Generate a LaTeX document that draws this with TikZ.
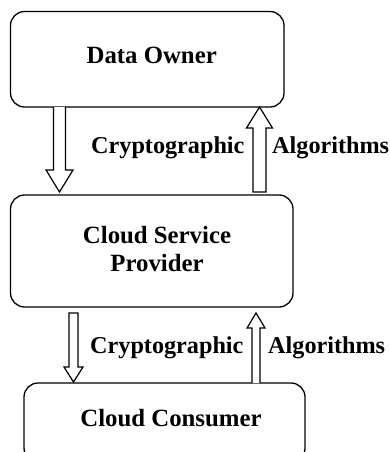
\documentclass[tikz,border=0pt]{standalone}
\usepackage{fontspec}
\setmainfont{Liberation Serif}
\usetikzlibrary{calc}
\begin{document}
\begin{tikzpicture}[x=1pt,y=-1pt,
  box/.style={draw=black,line width=1.3pt,rounded corners=14pt},
  hollow/.style={draw=black,line width=1.2pt,fill=white,line join=miter},
  lbl/.style={font=\fontsize{24.2}{27}\selectfont\bfseries,inner sep=0pt,anchor=base west},
  clbl/.style={font=\fontsize{24.8}{27}\selectfont\bfseries,inner sep=0pt,anchor=base}]
\useasboundingbox (0,0) rectangle (390,452);
\begin{scope}
\clip (0,0) rectangle (390,452);
% boxes
\draw[box] (10.5,11.5) rectangle (284,107);
\draw[box] (10.5,195) rectangle (293,307);
\draw[box] (24,383) rectangle (305,462);
\end{scope}
\node[clbl] (owner) at (151.7,63.3) {Data Owner};
\node[clbl] (csp1) at (157,243) {Cloud Service};
\node[clbl] (csp2) at (157,271.7) {Provider};
\node[clbl] (consumer) at (171,426) {Cloud Consumer};
\node[lbl] (crypto1) at (91,153) {Cryptographic};
\node[lbl] (algo1) at (272,153) {Algorithms};
\node[lbl] (crypto2) at (90,353) {Cryptographic};
\node[lbl] (algo2) at (268,353) {Algorithms};
% arrow 1 (down)
\coordinate (a1s) at (59.5,107);
\coordinate (a1t) at (59.5,192);
\draw[hollow] ($(a1s)+(-6,0)$) -- ($(a1t)+(-6,-22)$) -- ($(a1t)+(-13.5,-22)$) -- (a1t)
  -- ($(a1t)+(13.5,-22)$) -- ($(a1t)+(6,-22)$) -- ($(a1s)+(6,0)$);
% arrow 2 (up)
\coordinate (a2s) at (259.5,192);
\coordinate (a2t) at (259.5,107);
\draw[hollow] ($(a2s)+(-6.5,0)$) -- ($(a2t)+(-6.5,21)$) -- ($(a2t)+(-13,21)$) -- (a2t)
  -- ($(a2t)+(13,21)$) -- ($(a2t)+(6.5,21)$) -- ($(a2s)+(6.5,0)$) -- cycle;
% arrow 3 (down)
\coordinate (a3s) at (73.5,313);
\coordinate (a3t) at (73.5,382);
\draw[hollow] ($(a3s)+(-4.5,0)$) -- ($(a3t)+(-4.5,-15)$) -- ($(a3t)+(-9.5,-15)$) -- (a3t)
  -- ($(a3t)+(9.5,-15)$) -- ($(a3t)+(4.5,-15)$) -- ($(a3s)+(4.5,0)$) -- cycle;
% arrow 4 (up)
\coordinate (a4s) at (256,383);
\coordinate (a4t) at (256,313);
\draw[hollow] ($(a4s)+(-4,0)$) -- ($(a4t)+(-4,15)$) -- ($(a4t)+(-9,15)$) -- (a4t)
  -- ($(a4t)+(9,15)$) -- ($(a4t)+(4,15)$) -- ($(a4s)+(4,0)$);
\end{tikzpicture}
\end{document}
